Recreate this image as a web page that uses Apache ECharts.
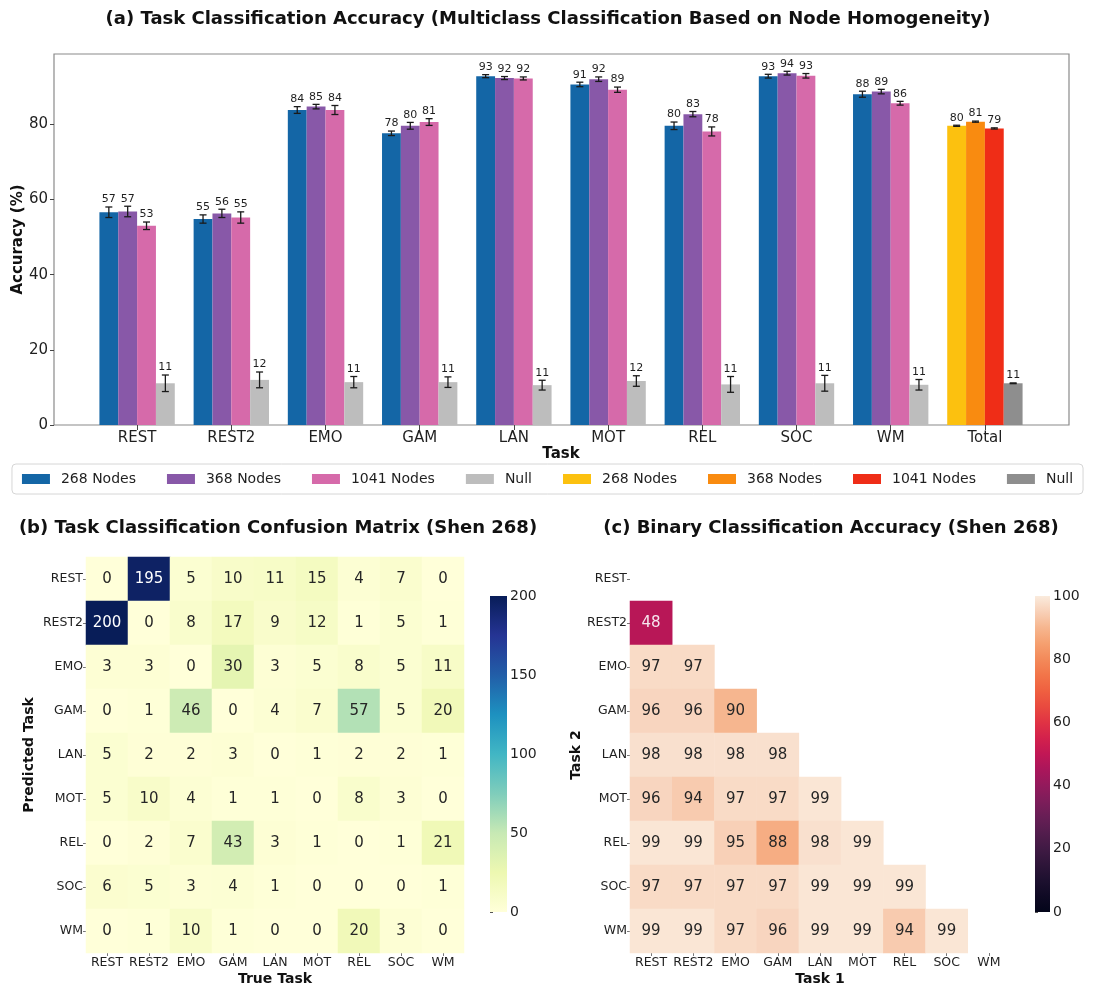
<!DOCTYPE html>
<html>
<head>
<meta charset="utf-8">
<script src="https://cdn.jsdelivr.net/npm/echarts@6/dist/echarts.min.js"></script>
<style>
  html, body { margin: 0; padding: 0; background: #ffffff; }
  #chart { width: 1095px; height: 988px; }
</style>
</head>
<body>
<div id="chart"></div>
<script>
// ---- data -------------------------------------------------------------
const tasks = ['REST', 'REST2', 'EMO', 'GAM', 'LAN', 'MOT', 'REL', 'SOC', 'WM'];
const barCategories = tasks.concat(['Total']);
const groupLabels = ['268 Nodes', '368 Nodes', '1041 Nodes', 'Null'];

// mean accuracy (%) per task, one array per parcellation
const acc268  = [56.6, 54.8, 83.8, 77.6, 92.8, 90.6, 79.6, 92.8, 88.0];
const acc368  = [56.8, 56.3, 84.7, 79.6, 92.3, 92.0, 82.7, 93.6, 88.7];
const acc1041 = [53.0, 55.2, 83.8, 80.6, 92.2, 89.2, 78.1, 92.9, 85.6];
const accNull = [11.1, 12.0, 11.4, 11.4, 10.6, 11.7, 10.8, 11.1, 10.7];
// standard deviation across folds
const err268  = [1.4, 1.1, 0.9, 0.6, 0.4, 0.6, 1.0, 0.5, 0.8];
const err368  = [1.4, 1.1, 0.6, 0.9, 0.4, 0.6, 0.7, 0.5, 0.6];
const err1041 = [1.0, 1.5, 1.2, 0.9, 0.4, 0.7, 1.2, 0.6, 0.5];
const errNull = [2.2, 2.1, 1.5, 1.4, 1.3, 1.4, 2.1, 2.1, 1.4];
// overall accuracy: 268, 368, 1041, Null
const totalAcc = [79.6, 80.7, 78.9, 11.1];
const totalErr = [0.15, 0.15, 0.15, 0.1];

const accYTicks = [0, 20, 40, 60, 80];

// confusion matrix: rows = predicted task, columns = true task
const confusion = [
  [0, 195, 5, 10, 11, 15, 4, 7, 0],
  [200, 0, 8, 17, 9, 12, 1, 5, 1],
  [3, 3, 0, 30, 3, 5, 8, 5, 11],
  [0, 1, 46, 0, 4, 7, 57, 5, 20],
  [5, 2, 2, 3, 0, 1, 2, 2, 1],
  [5, 10, 4, 1, 1, 0, 8, 3, 0],
  [0, 2, 7, 43, 3, 1, 0, 1, 21],
  [6, 5, 3, 4, 1, 0, 0, 0, 1],
  [0, 1, 10, 1, 0, 0, 20, 3, 0]
];

// pairwise binary accuracy (%), lower triangle: row = Task 2, column = Task 1
const binaryAcc = [
  [],
  [48],
  [97, 97],
  [96, 96, 90],
  [98, 98, 98, 98],
  [96, 94, 97, 97, 99],
  [99, 99, 95, 88, 98, 99],
  [97, 97, 97, 97, 99, 99, 99],
  [99, 99, 97, 96, 99, 99, 94, 99]
];

// ---- styling ----------------------------------------------------------
const FONT = 'DejaVu Sans';
const TEXT = '#1f1f1f';
const taskColors  = ['#1466a6', '#8858a8', '#d66aaa', '#bdbdbd'];
const totalColors = ['#fcc10f', '#f98b10', '#ef2d17', '#8e8e8e'];
const ylGnBu = ['#ffffd9', '#edf8b1', '#c7e9b4', '#7fcdbb', '#41b6c4',
                '#1d91c0', '#225ea8', '#253494', '#081d58'];
const rocket = ['#03051a', '#0f0a24', '#1d102f', '#2e1539', '#401a44', '#531d4d',
                '#671e55', '#7d1d5a', '#931a5c', '#aa165b', '#c11755', '#d3214c',
                '#e03344', '#e94a3f', '#ef6040', '#f27549', '#f38a5a', '#f5a070',
                '#f6b68f', '#f8d0b7', '#faebdd'];

const chart = echarts.init(document.getElementById('chart'), null, { renderer: 'canvas' });

// ---- bar + error bar series -------------------------------------------
const taskMeans = [acc268, acc368, acc1041, accNull];
const taskErrs  = [err268, err368, err1041, errNull];
const barSeries = [];
groupLabels.forEach((lab, g) => {
  barSeries.push({
    name: lab, type: 'bar', xAxisIndex: 1, yAxisIndex: 1, stack: 's' + g,
    barWidth: '20%', barGap: '0%',
    itemStyle: { color: taskColors[g] },
    data: taskMeans[g].concat([0]),
    emphasis: { disabled: true }, silent: true
  });
});
groupLabels.forEach((lab, g) => {
  barSeries.push({
    name: lab + ' (Total)', type: 'bar', xAxisIndex: 1, yAxisIndex: 1, stack: 's' + g,
    barWidth: '20%', barGap: '0%',
    itemStyle: { color: totalColors[g] },
    data: tasks.map(() => 0).concat([totalAcc[g]]),
    emphasis: { disabled: true }, silent: true
  });
});

const errData = [];
for (let g = 0; g < 4; g++) {
  tasks.forEach((t, i) => errData.push([i, g, taskMeans[g][i], taskErrs[g][i]]));
  errData.push([tasks.length, g, totalAcc[g], totalErr[g]]);
}

function renderErrorBar(params, api) {
  const cat = api.value(0), slot = api.value(1), mean = api.value(2), err = api.value(3);
  const band = api.size([1, 0])[0];
  const x = api.coord([cat, mean])[0] + (slot - 1.5) * 0.2 * band;
  const yTop = api.coord([cat, mean + err])[1];
  const yBot = api.coord([cat, mean - err])[1];
  const cap = 3.5;
  const ls = { stroke: '#1a1a1a', lineWidth: 1.3 };
  return {
    type: 'group',
    children: [
      { type: 'line', shape: { x1: x, y1: yTop, x2: x, y2: yBot }, style: ls },
      { type: 'line', shape: { x1: x - cap, y1: yTop, x2: x + cap, y2: yTop }, style: ls },
      { type: 'line', shape: { x1: x - cap, y1: yBot, x2: x + cap, y2: yBot }, style: ls },
      { type: 'text', x: x, y: yTop - 2,
        style: { text: String(Math.round(mean)), align: 'center', verticalAlign: 'bottom',
                 fontSize: 11, fontFamily: FONT, fill: TEXT } }
    ]
  };
}

// ---- heatmap data -----------------------------------------------------
const confData = [];
confusion.forEach((row, i) => row.forEach((v, j) => {
  confData.push({ value: [j, i, v], label: { color: v > 120 ? '#ffffff' : '#262626' } });
}));
const binData = [];
binaryAcc.forEach((row, i) => row.forEach((v, j) => {
  binData.push({ value: [j, i, v], label: { color: v < 60 ? '#f6e6ee' : '#262626' } });
}));

function gradientStops(colors) {
  return colors.map((c, k) => ({ offset: k / (colors.length - 1), color: c }));
}
function colorbarRenderer(maxVal, colors) {
  return function (params, api) {
    const p0 = api.coord([0, 0]);
    const p1 = api.coord([1, maxVal]);
    return {
      type: 'rect',
      shape: { x: p0[0], y: p1[1], width: p1[0] - p0[0], height: p0[1] - p1[1] },
      style: { fill: new echarts.graphic.LinearGradient(0, 1, 0, 0, gradientStops(colors)) }
    };
  };
}

// ---- shared axis styles -----------------------------------------------
const heatTickLabel = { fontSize: 12.5, fontFamily: FONT, color: TEXT, margin: 3, interval: 0 };
const heatTick = { show: true, length: 3, alignWithLabel: true, interval: 0,
                   lineStyle: { color: '#555', width: 0.8 } };
const nameStyle = (size) => ({ fontSize: size, fontWeight: 'bold', fontFamily: FONT, color: '#111' });

const titleStyle = { fontSize: 18, fontWeight: 'bold', fontFamily: FONT, color: '#111' };

const option = {
  backgroundColor: '#ffffff',
  animation: false,
  textStyle: { fontFamily: FONT },
  title: [
    { text: '(a) Task Classification Accuracy (Multiclass Classification Based on Node Homogeneity)',
      left: 548, top: 10, textAlign: 'center', padding: 0, textStyle: titleStyle },
    { text: '(b) Task Classification Confusion Matrix (Shen 268)',
      left: 278, top: 519, textAlign: 'center', padding: 0, textStyle: titleStyle },
    { text: '(c) Binary Classification Accuracy (Shen 268)',
      left: 831, top: 519, textAlign: 'center', padding: 0, textStyle: titleStyle }
  ],
  legend: {
    data: groupLabels.concat(groupLabels.map(l => l + ' (Total)')),
    formatter: name => name.replace(' (Total)', ''),
    left: 'center', top: 464, orient: 'horizontal',
    icon: 'rect', itemWidth: 28, itemHeight: 10, itemGap: 31,
    padding: [8, 10],
    borderColor: '#d6d6d6', borderWidth: 1, borderRadius: 4,
    textStyle: { fontSize: 14, fontFamily: FONT, color: TEXT, padding: [0, 0, 0, 6] },
    selectedMode: false
  },
  grid: [
    { left: 54, top: 54, width: 1015, height: 371, show: true, borderColor: '#8a8a8a',
      borderWidth: 1.2, backgroundColor: 'transparent', containLabel: false, outerBoundsMode: 'none' },
    { left: 90, top: 54, width: 942, height: 371, containLabel: false, outerBoundsMode: 'none' },
    { left: 86, top: 557, width: 378, height: 396, containLabel: false, outerBoundsMode: 'none' },
    { left: 630, top: 557, width: 380, height: 396, containLabel: false, outerBoundsMode: 'none' },
    { left: 490, top: 596, width: 17, height: 316, containLabel: false, outerBoundsMode: 'none' },
    { left: 1035, top: 596, width: 15, height: 316, containLabel: false, outerBoundsMode: 'none' }
  ],
  xAxis: [
    { gridIndex: 0, type: 'value', min: 0, max: 1, show: false },
    { gridIndex: 1, type: 'category', data: barCategories,
      axisLine: { show: false },
      axisTick: { show: true, alignWithLabel: true, length: 5, lineStyle: { color: '#444' } },
      axisLabel: { fontSize: 15, fontFamily: FONT, color: TEXT, margin: 6, interval: 0 },
      name: 'Task', nameLocation: 'middle', nameGap: 20, nameTextStyle: nameStyle(15) },
    { gridIndex: 2, type: 'category', data: tasks, position: 'bottom',
      axisLine: { show: false }, axisTick: heatTick, axisLabel: heatTickLabel, splitLine: { show: false },
      name: 'True Task', nameLocation: 'middle', nameGap: 19, nameTextStyle: nameStyle(14) },
    { gridIndex: 3, type: 'category', data: tasks, position: 'bottom',
      axisLine: { show: false }, axisTick: heatTick, axisLabel: heatTickLabel, splitLine: { show: false },
      name: 'Task 1', nameLocation: 'middle', nameGap: 19, nameTextStyle: nameStyle(14) },
    { gridIndex: 4, type: 'value', min: 0, max: 1, show: false },
    { gridIndex: 5, type: 'value', min: 0, max: 1, show: false }
  ],
  yAxis: [
    { gridIndex: 0, type: 'value', min: 0, max: 98.7,
      axisLine: { show: false }, splitLine: { show: false },
      axisTick: { show: true, length: 4, customValues: accYTicks, lineStyle: { color: '#444' } },
      axisLabel: { fontSize: 15, fontFamily: FONT, color: TEXT, margin: 6, customValues: accYTicks },
      name: 'Accuracy (%)', nameLocation: 'middle', nameGap: 28, nameRotate: 90,
      nameMoveOverlap: false, nameTextStyle: nameStyle(15) },
    { gridIndex: 1, type: 'value', min: 0, max: 98.7, show: false },
    { gridIndex: 2, type: 'category', data: tasks, inverse: true,
      axisLine: { show: false }, axisTick: heatTick, axisLabel: heatTickLabel, splitLine: { show: false },
      name: 'Predicted Task', nameLocation: 'middle', nameGap: 50, nameRotate: 90,
      nameTextStyle: nameStyle(14) },
    { gridIndex: 3, type: 'category', data: tasks, inverse: true,
      axisLine: { show: false }, axisTick: heatTick, axisLabel: heatTickLabel, splitLine: { show: false },
      name: 'Task 2', nameLocation: 'middle', nameGap: 47, nameRotate: 90,
      nameTextStyle: nameStyle(14) },
    { gridIndex: 4, type: 'value', min: 0, max: 200, interval: 50, position: 'right',
      axisLine: { show: false }, splitLine: { show: false },
      axisTick: { show: true, length: 3, lineStyle: { color: '#555' } },
      axisLabel: { fontSize: 14, fontFamily: FONT, color: TEXT, margin: 3 } },
    { gridIndex: 5, type: 'value', min: 0, max: 100, interval: 20, position: 'right',
      axisLine: { show: false }, splitLine: { show: false },
      axisTick: { show: true, length: 3, lineStyle: { color: '#555' } },
      axisLabel: { fontSize: 14, fontFamily: FONT, color: TEXT, margin: 3 } }
  ],
  visualMap: [
    { type: 'continuous', show: false, seriesIndex: 9, dimension: 2, min: 0, max: 200,
      inRange: { color: ylGnBu } },
    { type: 'continuous', show: false, seriesIndex: 10, dimension: 2, min: 0, max: 100,
      inRange: { color: rocket } }
  ],
  series: barSeries.concat([
    { name: 'error', type: 'custom', xAxisIndex: 1, yAxisIndex: 1, z: 5,
      renderItem: renderErrorBar, data: errData, encode: { x: 0, y: 2 }, silent: true },
    { name: 'confusion', type: 'heatmap', xAxisIndex: 2, yAxisIndex: 2, data: confData,
      label: { show: true, fontSize: 15, fontFamily: FONT }, emphasis: { disabled: true }, silent: true },
    { name: 'binary', type: 'heatmap', xAxisIndex: 3, yAxisIndex: 3, data: binData,
      label: { show: true, fontSize: 15, fontFamily: FONT }, emphasis: { disabled: true }, silent: true },
    { name: 'confusionScale', type: 'custom', xAxisIndex: 4, yAxisIndex: 4, silent: true,
      renderItem: colorbarRenderer(200, ylGnBu), data: [[0, 0]] },
    { name: 'binaryScale', type: 'custom', xAxisIndex: 5, yAxisIndex: 5, silent: true,
      renderItem: colorbarRenderer(100, rocket), data: [[0, 0]] }
  ])
};

chart.setOption(option);
</script>
</body>
</html>
